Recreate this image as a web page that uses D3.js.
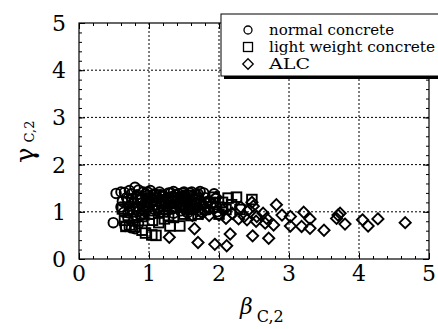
<!DOCTYPE html>
<html><head><meta charset="utf-8">
<script src="https://cdn.jsdelivr.net/npm/d3@7"></script>
<style>body{margin:0;background:#fff}svg{display:block}</style>
</head><body><svg id="c" width="438" height="329"></svg>
<script>
const xTicks=[0,1,2,3,4,5];
const yTicks=[0,1,2,3,4,5];
const seriesNames=["normal concrete","light weight concrete","ALC"];
const normal=[[0.49,0.77],[0.53,1.39],[0.60,1.42],[0.65,1.41],[0.72,1.45],[0.80,1.52],[0.85,1.46],[0.60,1.10],[0.64,0.99],[0.66,0.69],[0.75,0.66],[0.80,0.64],[0.70,0.86],[0.62,1.22],[0.68,1.30],[0.75,1.38],[0.78,1.20],[0.82,1.10],[0.85,1.00],[0.88,0.92],[0.90,1.30],[0.92,1.42],[0.95,1.20],[0.98,1.35],[1.00,1.10],[1.02,1.45],[1.05,1.25],[1.08,1.38],[1.10,1.15],[1.12,1.30],[1.15,1.42],[1.18,1.20],[1.20,1.35],[1.22,1.05],[1.25,1.28],[1.28,1.40],[1.30,1.18],[1.32,1.32],[1.35,1.43],[1.38,1.10],[1.40,1.25],[1.42,1.38],[1.45,1.20],[1.48,1.33],[1.50,1.42],[1.52,1.12],[1.55,1.28],[1.58,1.40],[1.60,1.20],[1.62,1.33],[1.65,1.05],[1.68,1.25],[1.70,1.38],[1.73,1.43],[1.76,1.15],[1.80,1.30],[1.85,1.22],[1.93,1.38],[1.95,1.28],[0.95,1.00],[1.05,0.95],[1.15,0.98],[1.25,1.00],[1.35,0.97],[1.45,1.02],[1.55,0.98],[0.88,1.18],[0.97,1.28],[1.08,1.05],[1.18,1.12],[1.28,1.22],[1.38,1.30],[1.48,1.15],[1.58,1.08],[0.72,1.12],[0.70,0.98],[0.78,0.80],[0.85,0.75],[1.75,1.00],[1.85,1.05],[1.98,1.00],[2.05,1.10],[0.83,1.36],[0.93,1.10],[1.03,1.18],[1.13,1.07],[1.23,1.16],[1.33,1.06],[1.43,1.12],[1.53,1.20],[1.63,1.14],[1.72,1.22],[0.88,1.25],[0.98,1.42],[1.08,1.30],[1.18,1.32],[1.28,1.30],[1.38,1.36],[1.48,1.40],[1.58,1.30],[1.68,1.35],[1.78,1.40],[0.95,1.38],[1.11,1.22],[1.21,1.25],[1.31,1.40],[1.41,1.18],[1.51,1.26],[1.61,1.42],[1.71,1.30],[1.82,1.18],[0.76,1.28],[0.91,1.05],[1.01,1.30],[1.16,1.36],[1.26,1.10],[1.36,1.20],[1.46,1.30],[1.56,1.14],[1.66,1.20],[0.73,1.02],[0.81,0.92],[0.92,0.96]];
const lightweight=[[0.62,1.06],[0.65,0.82],[0.67,0.69],[0.72,0.72],[0.80,0.68],[0.90,0.61],[0.95,0.55],[1.04,0.51],[1.10,0.50],[1.14,0.77],[1.22,0.85],[1.30,0.70],[1.44,0.70],[1.35,0.88],[1.50,0.95],[1.60,0.92],[1.73,1.15],[1.80,1.05],[1.93,1.31],[2.13,1.29],[2.25,1.31],[2.47,1.26],[2.05,1.20],[2.18,1.15],[1.88,1.20],[1.65,1.25],[1.55,1.35],[1.40,1.30],[1.25,1.25],[1.10,1.35],[0.98,1.22],[0.85,1.30],[0.78,1.05],[0.90,0.90],[1.00,0.95],[1.20,1.00],[1.45,1.10],[2.30,1.05],[2.00,0.95],[1.70,0.95],[0.70,1.20],[1.05,0.82],[1.28,0.92],[1.62,1.05],[1.95,1.10],[2.10,1.05]];
const alc=[[1.29,0.46],[1.65,0.64],[1.70,0.35],[1.94,0.31],[2.11,0.28],[2.16,0.53],[2.48,0.49],[2.71,0.44],[2.28,0.85],[2.47,1.20],[2.82,1.15],[2.43,1.05],[2.63,0.97],[2.68,0.86],[2.66,0.76],[2.78,0.72],[2.90,0.93],[3.02,0.90],[3.02,0.70],[3.21,0.99],[3.18,0.69],[3.30,0.85],[3.30,0.65],[3.50,0.61],[3.70,0.93],[3.73,0.97],[3.68,0.86],[3.80,0.74],[4.05,0.83],[4.13,0.70],[4.27,0.85],[4.66,0.77],[2.19,0.97],[2.10,0.86],[2.31,1.10],[2.36,0.90],[2.00,0.93],[1.86,0.92],[1.76,0.97],[1.62,0.92],[1.91,1.17],[1.96,1.31],[2.49,1.12],[2.53,0.80],[2.54,0.90],[2.40,0.83],[1.50,1.05],[1.60,1.15],[1.80,1.02],[2.05,1.05]];

const FONT="'DejaVu Serif', serif";
const svg=d3.select("#c");
const L=79,R=429,T=23,B=259;
const x=d3.scaleLinear().domain([0,5]).range([L,R]);
const y=d3.scaleLinear().domain([0,5]).range([B,T]);

const g=svg.append("g");
g.selectAll(".gx").data(xTicks.slice(1,-1)).join("line").attr("x1",d=>x(d)).attr("x2",d=>x(d)).attr("y1",T).attr("y2",B).attr("stroke","#000").attr("stroke-dasharray","2,2");
g.selectAll(".gy").data(yTicks.slice(1,-1)).join("line").attr("x1",L).attr("x2",R).attr("y1",d=>y(d)).attr("y2",d=>y(d)).attr("stroke","#000").attr("stroke-dasharray","2,2");

const minor=d3.range(0,5.001,0.2);
function tickSet(axisGen, tr){ svg.append("g").attr("transform",tr).call(axisGen).call(s=>{s.select(".domain").remove();s.selectAll("text").remove();s.selectAll("line").attr("stroke","#000");}); }
tickSet(d3.axisBottom(x).tickValues(minor).tickSize(-3),`translate(0,${B})`);
tickSet(d3.axisBottom(x).tickValues(xTicks).tickSize(-6),`translate(0,${B})`);
tickSet(d3.axisTop(x).tickValues(minor).tickSize(-3),`translate(0,${T})`);
tickSet(d3.axisTop(x).tickValues(xTicks).tickSize(-6),`translate(0,${T})`);
tickSet(d3.axisLeft(y).tickValues(minor).tickSize(-3),`translate(${L},0)`);
tickSet(d3.axisLeft(y).tickValues(yTicks).tickSize(-6),`translate(${L},0)`);
tickSet(d3.axisRight(y).tickValues(minor).tickSize(-3),`translate(${R},0)`);
tickSet(d3.axisRight(y).tickValues(yTicks).tickSize(-6),`translate(${R},0)`);
svg.append("rect").attr("x",L).attr("y",T).attr("width",R-L).attr("height",B-T).attr("fill","none").attr("stroke","#000").attr("stroke-width",1.2);

svg.selectAll(".xl").data(xTicks).join("text").style("font-family",FONT).attr("transform",d=>`translate(${x(d)},${B+22})`).attr("text-anchor","middle").attr("font-size",22).text(d=>d);
svg.selectAll(".yl").data(yTicks).join("text").style("font-family",FONT).attr("transform",d=>`translate(${66},${y(d)+8})`).attr("text-anchor","end").attr("font-size",22).text(d=>d);

const xt=svg.append("text").style("font-family",FONT).attr("transform",`translate(240,314)`).attr("font-size",22);
xt.append("tspan").attr("font-style","italic").text("β");
xt.append("tspan").attr("font-size",16).attr("dx",4).attr("dy",8).text("C,2");
const yt=svg.append("text").style("font-family",FONT).attr("transform",`translate(34,163) rotate(-90)`).attr("font-size",26);
yt.append("tspan").text("γ");
yt.append("tspan").attr("font-size",13).attr("dx",5).attr("dy",0).text("C,2");

const pts=svg.append("g").attr("fill","none").attr("stroke","#000").attr("stroke-width",1.9);
pts.selectAll(".c").data(normal).join("circle").attr("cx",d=>x(d[0])).attr("cy",d=>y(d[1])).attr("r",4.8);
pts.selectAll(".s").data(lightweight).join("rect").attr("x",d=>x(d[0])-4.8).attr("y",d=>y(d[1])-4.8).attr("width",9.6).attr("height",9.6);
const dia=d3.symbol().type(d3.symbolDiamond2).size(80);
pts.selectAll(".d").data(alc).join("path").attr("transform",d=>`translate(${x(d[0])},${y(d[1])})`).attr("d",dia);

const lg=svg.append("g");
lg.append("rect").attr("x",224).attr("y",17).attr("width",220).attr("height",62).attr("fill","#000");
lg.append("rect").attr("x",221).attr("y",14).attr("width",220).attr("height",62).attr("fill","#fff").attr("stroke","#000");
const ly=[30,47,64];
const lw=[125,166,41];
const syms=lg.append("g").attr("fill","none").attr("stroke","#000").attr("stroke-width",1.3);
syms.append("circle").attr("cx",248).attr("cy",ly[0]).attr("r",4);
syms.append("rect").attr("x",243.5).attr("y",ly[1]-4.5).attr("width",9).attr("height",9);
syms.append("path").attr("transform",`translate(248,${ly[2]})`).attr("d",d3.symbol().type(d3.symbolDiamond2).size(70));
lg.selectAll(".lt").data(seriesNames).join("text").style("font-family",FONT).attr("x",269).attr("y",(d,i)=>ly[i]+5).attr("font-size",14).attr("textLength",(d,i)=>lw[i]).attr("lengthAdjust","spacingAndGlyphs").text(d=>d);
</script></body></html>
